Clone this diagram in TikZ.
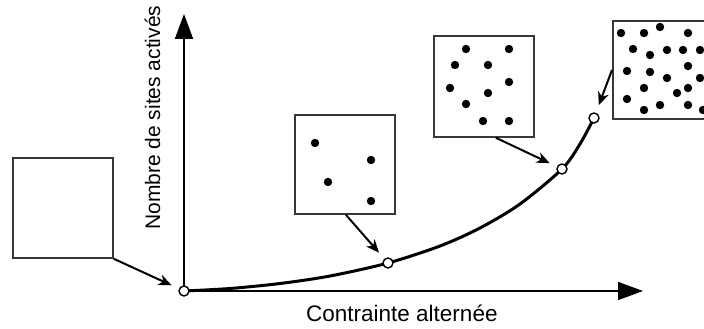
\documentclass[tikz,border=0pt]{standalone}
\usepackage{fontspec}
\setmainfont{Liberation Sans}
\usetikzlibrary{arrows.meta}
\begin{document}
\begin{tikzpicture}[x=1pt,y=-1pt,
  boxframe/.style={draw=black!78, line width=1.8pt, fill=white, inner sep=0pt},
  ptmark/.style={circle, draw=black, fill=white, line width=1.4pt, inner sep=0pt, minimum size=10pt},
  axisline/.style={line width=1.8pt, -{Triangle[length=25pt,width=18pt]}},
  pointer/.style={line width=2pt, shorten >=8pt, -{Stealth[length=13pt,width=11pt,inset=4pt]}},
  curveline/.style={line width=3pt},
  lbl/.style={inner sep=0pt, text=black}]
\useasboundingbox (0,0) rectangle (704,329);
\clip (0,0) rectangle (704,329);
% axes
\coordinate (O) at (184,291);
\coordinate (ytop) at (184,14);
\coordinate (xend) at (643,291);
\draw[axisline] (O) -- (ytop);
\draw[axisline] (O) -- (xend);
% curve
\draw[curveline] plot[smooth, tension=0.5] coordinates {(184,291) (230,288.5) (280,283.5) (330,276) (388,263) (440,246) (480,228) (520,204) (562,169) (580,144) (594,118)};
% boxes
\node[boxframe, minimum width=100pt, minimum height=100pt, anchor=north west] (b1) at (12,157) {};
\node[boxframe, minimum width=100pt, minimum height=99pt, anchor=north west] (b2) at (294,114) {};
\node[boxframe, minimum width=100pt, minimum height=101pt, anchor=north west] (b3) at (433,35) {};
\node[boxframe, minimum width=100pt, minimum height=98pt, anchor=north west] (b4) at (612,20) {};
% dots
\foreach \p in {(315,143),(371,160),(328,182),(371,201)} \fill \p circle (4.2pt);
\foreach \p in {(466,49),(509,49),(455,65),(488,65),(509,82),(450,88),(488,93),(466,104),(483,121),(509,121)} \fill \p circle (4.2pt);
\foreach \p in {(621,33),(644,33),(660,27),(688,33),
  (633,49),(650,55),(667,50),(683,50),(700,50),
  (627,71),(650,72),(667,78),(688,66),(700,78),
  (644,88),(677,93),(688,88),(627,99),
  (644,110),(660,105),(688,105),(703,110)} \fill \p circle (4.2pt);
% points on curve
\node[ptmark] (p0) at (184,291) {};
\node[ptmark] (p1) at (388,263) {};
\node[ptmark] (p2) at (562,169) {};
\node[ptmark] (p3) at (594,118) {};
% pointers
\draw[pointer] (b1.south east) -- (p0);
\draw[pointer] ([xshift=1pt]b2.south) -- (p1);
\draw[pointer] ([xshift=12pt]b3.south) -- (p2);
\draw[pointer] (b4.west) -- (p3);
% labels
\node[lbl, font=\fontsize{22.5}{27}\selectfont, anchor=base west] (xl) at (306,321) {Contrainte alternée};
\node[lbl, font=\fontsize{21}{25}\selectfont, rotate=90, anchor=base west] (yl) at (160,230) {Nombre de sites activés};
\end{tikzpicture}
\end{document}
